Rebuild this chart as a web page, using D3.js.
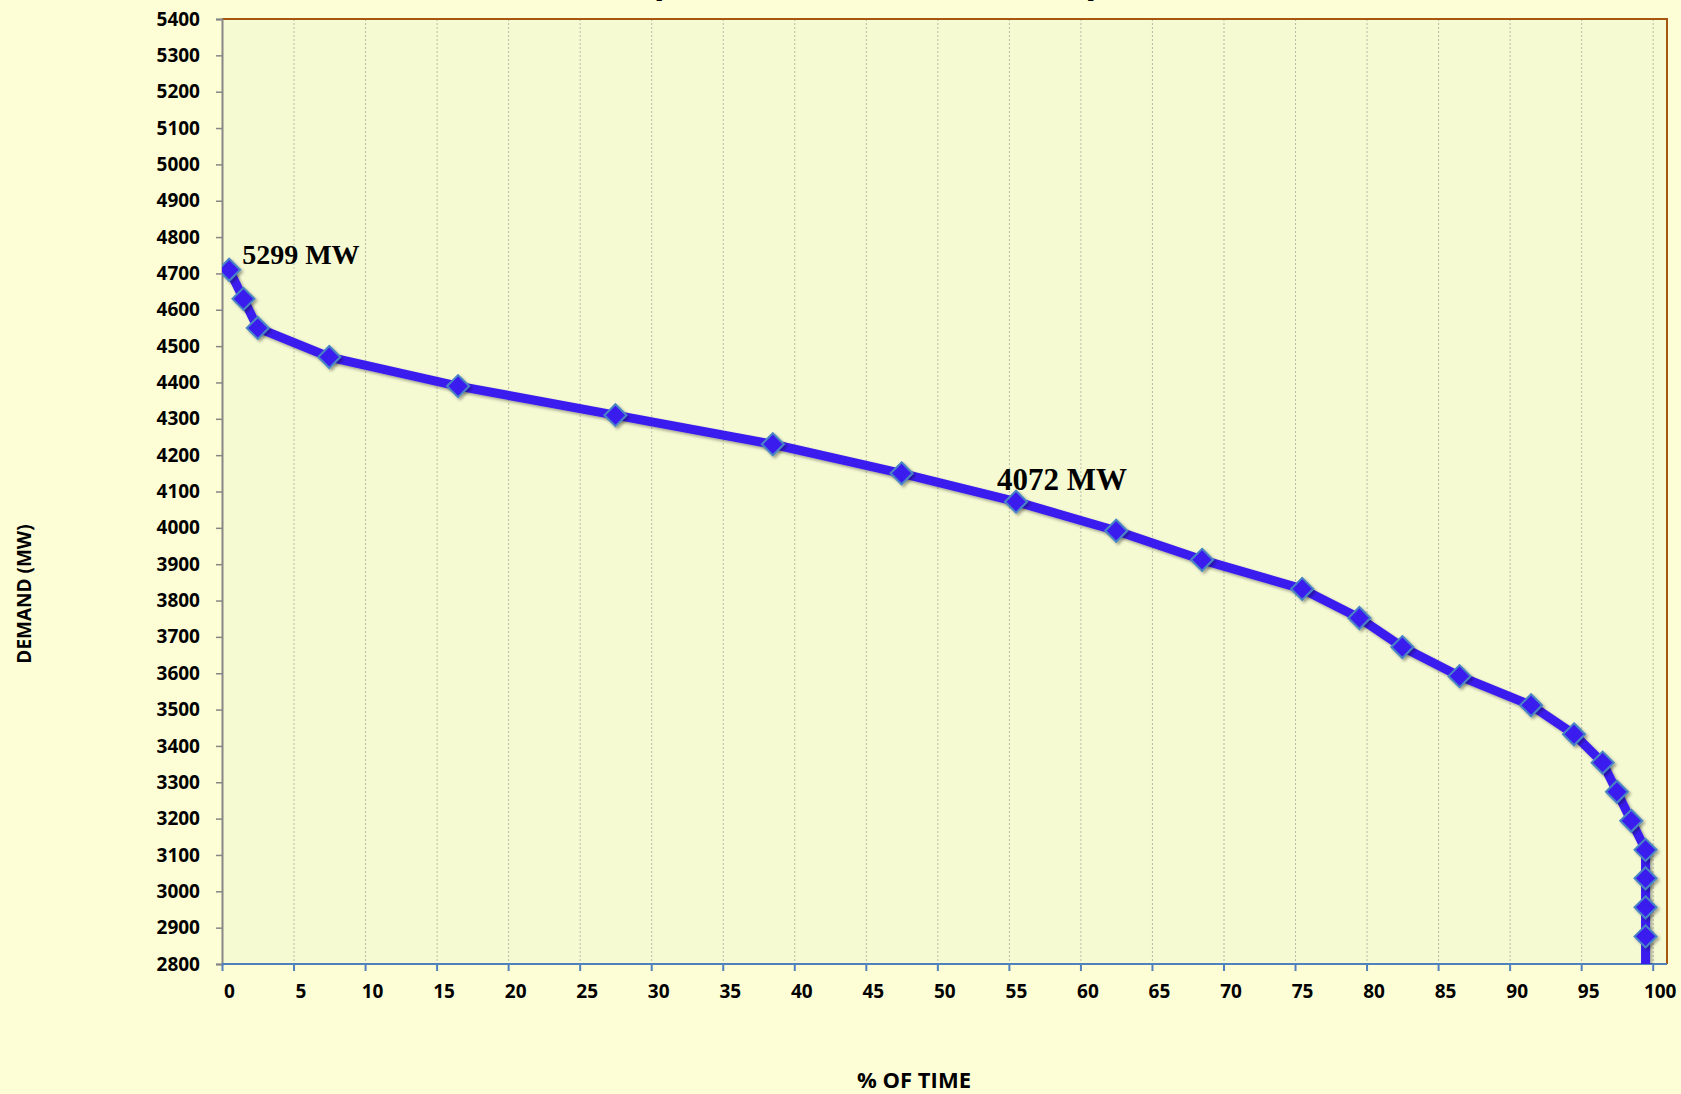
<!DOCTYPE html>
<html>
<head>
<meta charset="utf-8">
<script src="https://cdn.jsdelivr.net/npm/d3@7"></script>
<style>
  body { margin: 0; background: #fefed6; }
  svg { display: block; }
  .tick text { font-family: "Open Sans", sans-serif; font-weight: 700; fill: #000; }
</style>
</head>
<body>
<svg id="chart" width="1681" height="1094"></svg>
<script>
// % of time (x) and demand in MW (y) for each marker
var pctTime = [0.5, 1.5, 2.5, 7.5, 16.5, 27.5, 38.5, 47.5, 55.5, 62.5, 68.5, 75.5, 79.5,
               82.5, 86.5, 91.5, 94.5, 96.5, 97.5, 98.5, 99.5, 99.5, 99.5, 99.5, 99.5];
var demandMW = [4710, 4630, 4550, 4470, 4390, 4310, 4230, 4150, 4072, 3992, 3912, 3832, 3752,
                3672, 3592, 3512, 3432, 3354, 3274, 3194, 3114, 3036, 2956, 2876, 2720];

var xTicks = d3.range(0, 101, 5);
var yTicks = d3.range(2800, 5401, 100);

// callouts, attached to a marker index
var notes = [
  { idx: 0, text: "5299 MW", size: 28 },
  { idx: 8, text: "4072 MW", size: 31 }
];

var titleText = "[ALL 8760 HOURS, SORTED BY DEMAND]";

var svg = d3.select("#chart");
var W = 1681, H = 1094;
var plot = { left: 222, top: 19, right: 1667, bottom: 964 };

var x = d3.scaleLinear().domain([0, 101]).range([plot.left, plot.right]);
var y = d3.scaleLinear().domain([2800, 5400]).range([plot.bottom, plot.top]);

svg.append("rect").attr("width", W).attr("height", H).attr("fill", "#fefed6");

var defs = svg.append("defs");
defs.append("clipPath").attr("id", "clip")
  .append("rect")
  .attr("x", plot.left).attr("y", plot.top)
  .attr("width", plot.right - plot.left).attr("height", plot.bottom - plot.top);
var shadow = defs.append("filter").attr("id", "shadow")
  .attr("x", "-50%").attr("y", "-50%").attr("width", "200%").attr("height", "200%");
shadow.append("feDropShadow")
  .attr("dx", 2).attr("dy", 2).attr("stdDeviation", 1.5)
  .attr("flood-color", "#000").attr("flood-opacity", 0.35);

// title, mostly cut off above the picture (as in the source image)
svg.append("text")
  .attr("x", 875).attr("y", -3)
  .attr("text-anchor", "middle")
  .attr("textLength", 440).attr("lengthAdjust", "spacingAndGlyphs")
  .style("font-family", "Open Sans, sans-serif").style("font-weight", 700).style("font-size", "22px")
  .text(titleText);

// plot area
svg.append("rect")
  .attr("x", plot.left).attr("y", plot.top)
  .attr("width", plot.right - plot.left).attr("height", plot.bottom - plot.top)
  .attr("fill", "#f6fad3");

// vertical gridlines
svg.append("g").selectAll("line")
  .data(xTicks.filter(function(d) { return d > 0; }))
  .join("line")
  .attr("x1", function(d) { return x(d) + 0.5; })
  .attr("x2", function(d) { return x(d) + 0.5; })
  .attr("y1", plot.top).attr("y2", plot.bottom)
  .attr("stroke", "#b9baa6").attr("stroke-width", 1)
  .attr("stroke-dasharray", "2,2");

// frame: top + right in brown
svg.append("path")
  .attr("d", "M" + plot.left + "," + plot.top + "H" + plot.right + "V" + plot.bottom)
  .attr("fill", "none").attr("stroke", "#a5560f").attr("stroke-width", 2);

// y axis
var yAxis = svg.append("g")
  .attr("transform", "translate(" + plot.left + ",0)")
  .call(d3.axisLeft(y).tickValues(yTicks).tickSize(6).tickPadding(16).tickFormat(d3.format("d")));
yAxis.select(".domain").attr("stroke", "#868686").attr("stroke-width", 2);
yAxis.selectAll(".tick line").attr("stroke", "#868686").attr("stroke-width", 1.5);
yAxis.selectAll(".tick text").style("font-size", "19px");

// x axis
var xAxis = svg.append("g")
  .attr("transform", "translate(0," + plot.bottom + ")")
  .call(d3.axisBottom(x).tickValues(xTicks).tickSize(7).tickPadding(14).tickSizeOuter(0));
xAxis.select(".domain").attr("stroke", "#4f81bd").attr("stroke-width", 2)
  .attr("d", "M" + plot.left + ",0H" + plot.right);
xAxis.selectAll(".tick line").attr("stroke", "#4f81bd").attr("stroke-width", 2);
xAxis.selectAll(".tick text").style("font-size", "19px").attr("dx", 7);

// the curve
var pts = pctTime.map(function(d, i) { return [d, demandMW[i]]; });
var line = d3.line().x(function(d) { return x(d[0]); }).y(function(d) { return y(d[1]); });

var series = svg.append("g").attr("clip-path", "url(#clip)");
series.append("path")
  .datum(pts)
  .attr("d", line)
  .attr("fill", "none")
  .attr("stroke", "#3a1cef")
  .attr("stroke-width", 9)
  .attr("stroke-linejoin", "round")
  .attr("filter", "url(#shadow)");

series.selectAll("path.marker")
  .data(pts)
  .join("path")
  .attr("class", "marker")
  .attr("d", "M0,-11L11,0L0,11L-11,0Z")
  .attr("transform", function(d) { return "translate(" + x(d[0]) + "," + y(d[1]) + ")"; })
  .attr("fill", "#3a1cef")
  .attr("stroke", "#4a84c4")
  .attr("stroke-width", 2)
  .attr("filter", "url(#shadow)");

// callouts
svg.append("g").selectAll("text")
  .data(notes)
  .join("text")
  .attr("x", function(d) { return d.idx === 0 ? x(pctTime[d.idx]) + 13 : x(pctTime[d.idx]) - 19; })
  .attr("y", function(d) { return d.idx === 0 ? y(demandMW[d.idx]) - 6 : y(demandMW[d.idx]) - 12; })
  .style("font-family", "Liberation Serif, serif").style("font-weight", 700)
  .style("font-size", function(d) { return d.size + "px"; })
  .text(function(d) { return d.text; });

// axis titles
svg.append("text")
  .attr("transform", "translate(31,594) rotate(-90)")
  .attr("text-anchor", "middle")
  .style("font-family", "Open Sans, sans-serif").style("font-weight", 700).style("font-size", "19px")
  .text("DEMAND (MW)");

svg.append("text")
  .attr("x", 914).attr("y", 1088)
  .attr("text-anchor", "middle")
  .style("font-family", "Open Sans, sans-serif").style("font-weight", 700).style("font-size", "22px")
  .text("% OF TIME");
</script>
</body>
</html>
